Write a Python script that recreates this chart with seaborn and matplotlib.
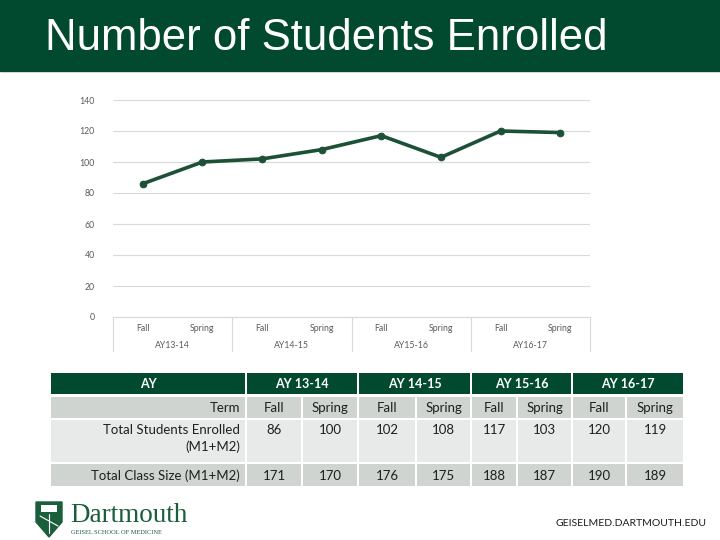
import numpy as np
import pandas as pd
import seaborn as sns
import matplotlib.pyplot as plt
from matplotlib.patches import Rectangle, Polygon

# data
years = ['AY13-14', 'AY14-15', 'AY15-16', 'AY16-17']
year_heads = ['AY 13-14', 'AY 14-15', 'AY 15-16', 'AY 16-17']
terms = ['Fall', 'Spring', 'Fall', 'Spring', 'Fall', 'Spring', 'Fall', 'Spring']
enrolled = [86, 100, 102, 108, 117, 103, 120, 119]
class_size = [171, 170, 176, 175, 188, 187, 190, 189]
y_ticks = [0, 20, 40, 60, 80, 100, 120, 140]

green = '#024a2f'
line_green = '#1c5136'
grey_row = '#cfd4d1'
light_row = '#e8eae9'
txt = '#1f1f1f'

df = pd.DataFrame({'pos': np.arange(len(terms)), 'term': terms, 'enrolled': enrolled})

sns.set_style('white')
plt.rcParams['font.family'] = ['Lato', 'DejaVu Sans']

fig = plt.figure(figsize=(7.2, 5.4), dpi=100)
W, H = 720, 540

# overlay in pixel coords for slide pieces
bg = fig.add_axes([0, 0, 1, 1])
bg.set_xlim(0, W)
bg.set_ylim(H, 0)
bg.axis('off')

# title band
bg.add_patch(Rectangle((0, 0), W, 71, color=green))
bg.text(45, 39, 'Number of Students Enrolled', color='white', fontsize=31.5,
        family='Liberation Sans', va='center', ha='left')

# chart
ax = fig.add_axes([113 / W, 1 - 317 / H, (590 - 113) / W, (317 - 100) / H])
sns.lineplot(data=df, x='pos', y='enrolled', ax=ax, color=line_green, lw=2.6,
             marker='o', markersize=4.8, markeredgecolor=line_green)
ax.set_xlim(-0.5, len(terms) - 0.5)
ax.set_ylim(0, 140)
ax.set_yticks(y_ticks)
ax.set_yticklabels([str(v) for v in y_ticks], fontsize=6.3, color='#595959')
ax.set_xticks(df['pos'])
ax.set_xticklabels(terms, fontsize=6.3, color='#595959')
ax.tick_params(axis='x', length=0, pad=5)
ax.tick_params(axis='y', length=0, pad=13)
ax.grid(axis='y', color='#d9d9d9', lw=0.8)
ax.set_xlabel('')
ax.set_ylabel('')
for s in ['top', 'right', 'left']:
    ax.spines[s].set_visible(False)
ax.spines['bottom'].set_color('#d9d9d9')

trans = ax.get_xaxis_transform()
for i, yr in enumerate(years):
    ax.text(2 * i + 0.5, -0.13, yr, transform=trans, ha='center', va='center',
            fontsize=6.3, color='#595959')
for b in np.arange(-0.5, len(terms), 2):
    ax.plot([b, b], [0, -0.155], transform=trans, color='#d9d9d9', lw=0.8,
            clip_on=False)

# table
edges = [51, 245, 301, 357, 415, 470, 516, 571, 625, 683]
gap = 2
rows = [(373, 394), (397, 418), (420, 462), (464, 486)]

# header row
bg.add_patch(Rectangle((edges[0], rows[0][0]), edges[1] - edges[0], rows[0][1] - rows[0][0],
                       color=green, lw=0))
bg.text((edges[0] + edges[1]) / 2, (rows[0][0] + rows[0][1]) / 2 + 1, 'AY', color='white',
        fontsize=9, fontweight='bold', ha='center', va='center')
for i, head in enumerate(year_heads):
    x0 = edges[1 + 2 * i] + gap
    x1 = edges[3 + 2 * i]
    bg.add_patch(Rectangle((x0, rows[0][0]), x1 - x0, rows[0][1] - rows[0][0],
                           color=green, lw=0))
    bg.text((x0 + x1) / 2, (rows[0][0] + rows[0][1]) / 2 + 1, head, color='white',
            fontsize=9, fontweight='bold', ha='center', va='center')

row_labels = ['Term', 'Total Students Enrolled\n(M1+M2)', 'Total Class Size (M1+M2)']
row_vals = [terms, enrolled, class_size]
row_cols = [grey_row, light_row, grey_row]
for r in range(3):
    y0, y1 = rows[r + 1]
    bg.add_patch(Rectangle((edges[0], y0), edges[1] - edges[0], y1 - y0,
                           color=row_cols[r], lw=0))
    if r == 1:
        ty, va, ls = y0 + 4, 'top', 1.45
    else:
        ty, va, ls = (y0 + y1) / 2 + 1, 'center', 1.2
    bg.text(edges[1] - 5, ty, row_labels[r], fontsize=9.5, color=txt, ha='right',
            va=va, linespacing=ls)
    for c in range(8):
        x0 = edges[1 + c] + gap
        x1 = edges[2 + c]
        bg.add_patch(Rectangle((x0, y0), x1 - x0, y1 - y0, color=row_cols[r], lw=0))
        bg.text((x0 + x1) / 2, ty, str(row_vals[r][c]), fontsize=9.5, color=txt,
                ha='center', va=va)

# footer
shield = Polygon([(36, 502), (62, 502), (62, 522), (49, 537), (36, 522)],
                 closed=True, color='#1a5e3b')
bg.add_patch(shield)
bg.add_patch(Rectangle((41, 505), 16, 7, color='white', lw=0))
bg.plot([40, 58], [516, 526], color='white', lw=0.8)
bg.plot([49, 49], [514, 533], color='white', lw=0.8)
bg.text(70, 516, 'Dartmouth', family='Liberation Serif', fontsize=19.5,
        color='#1a5e3b', ha='left', va='center')
bg.text(71, 533, 'GEISEL SCHOOL OF MEDICINE', family='Liberation Serif', fontsize=4.6,
        color='#1a5e3b', ha='left', va='center')
bg.text(707, 524, 'GEISELMED.DARTMOUTH.EDU', fontsize=7.5, color='#1a1a1a',
        ha='right', va='center')

fig.savefig('out.png', dpi=100)
